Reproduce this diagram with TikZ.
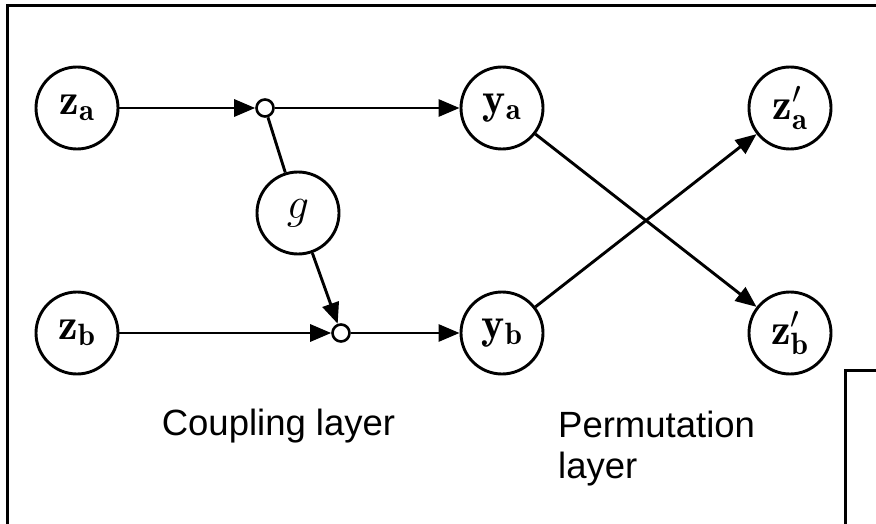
\documentclass[tikz,border=0pt]{standalone}
\usepackage{fix-cm}
\usepackage{fontspec}
\setsansfont{Liberation Sans}
\usetikzlibrary{arrows.meta}
\begin{document}
\begin{tikzpicture}[x=1pt,y=-1pt,
  var/.style={circle,draw,line width=2.9pt,minimum size=82pt,inner sep=0pt,
    font=\fontsize{44}{50}\selectfont},
  junc/.style={circle,draw,line width=2.6pt,minimum size=17pt,inner sep=0pt,fill=white},
  conn/.style={line width=2.9pt},
  arr/.style={conn,-{Triangle[length=21pt,width=17pt]}},
  lab/.style={font=\fontsize{36.5}{41}\sffamily,inner sep=0pt},
  frame/.style={line width=3pt}]
\useasboundingbox (0,0) rectangle (876,524);
\clip (0,0) rectangle (876,524);
\draw[frame] (7,540) -- (7,6) -- (890,6);
\draw[frame] (845,540) -- (845,370) -- (890,370);

\node[var] (za) at (77,108) {$\mathbf{z}_{\mathbf{a}}$};
\node[var] (zb) at (77,333) {$\mathbf{z}_{\mathbf{b}}$};
\node[var] (g) at (298,213) {$g$};
\node[var] (ya) at (502,108) {$\mathbf{y}_{\mathbf{a}}$};
\node[var] (yb) at (502,333) {$\mathbf{y}_{\mathbf{b}}$};
\node[var] (zpa) at (790,108) {$\mathbf{z}'_{\mathbf{a}}$};
\node[var] (zpb) at (790,333) {$\mathbf{z}'_{\mathbf{b}}$};
\node[junc] (s1) at (265,108) {};
\node[junc] (s2) at (341,333) {};

\draw[arr] (za) -- (s1);
\draw[arr] (s1) -- (ya);
\draw[conn] (s1) -- (g);
\draw[arr] (g) -- (s2);
\draw[arr] (zb) -- (s2);
\draw[arr] (s2) -- (yb);
\draw[arr] (ya) -- (zpb);
\draw[arr] (yb) -- (zpa);

\node[lab,anchor=base] (coup) at (278.5,435) {Coupling layer};
\node[lab,anchor=base west,align=left] (perm) at (558,478) {Permutation\\layer};
\end{tikzpicture}
\end{document}
